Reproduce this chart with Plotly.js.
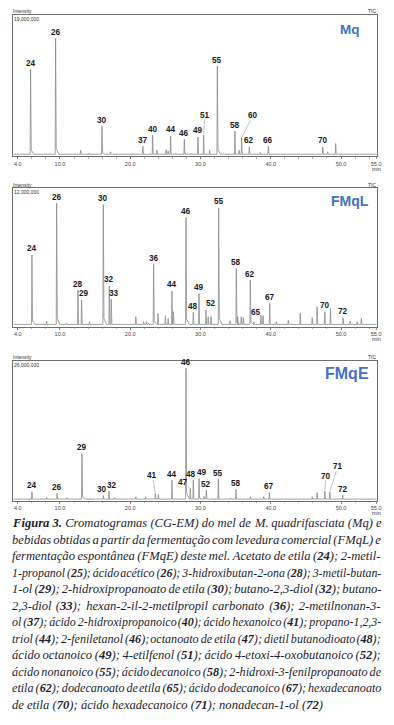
<!DOCTYPE html>
<html><head><meta charset="utf-8">
<script src="https://cdn.plot.ly/plotly-3.0.1.min.js"></script>
<style>html,body{margin:0;padding:0;background:#fff;}#chart{width:394px;height:725px;}</style>
</head><body><div id="chart"></div>
<script>
// ---------- DATA ----------
// Panel Mq : retention time (min), peak height (millions of counts), compound label
const mqTimes   = [5.82, 9.38, 12.94, 14.2, 15.98, 17.2, 21.8, 23.19, 23.8, 25.1, 25.4, 25.75, 26.5, 27.7, 28.7, 29.64, 30.45, 31.3, 32.4, 34.9, 35.5, 35.86, 36.95, 38.5, 39.66, 44.0, 47.4, 48.1, 49.24];
const mqHeights = [11.72, 15.85, 0.82, 0.45, 4.05, 0.6, 1.35, 2.83, 0.8, 0.9, 0.7, 2.74, 0.4, 2.29, 0.4, 2.6, 2.83, 0.8, 12.1, 3.4, 0.8, 2.5, 1.26, 0.5, 1.35, 0.35, 1.26, 0.6, 1.71];
const mqLabels  = ['24','26','','','30','','37','40','','','','44','','46','','49','51','','55','58','','60','62','','66','','70','',''];
const mqBase = 0.28, mqScale = 19;

// Panel FMqL
const lTimes   = [6.01, 8.1, 9.53, 10.9, 12.56, 13.08, 14.2, 16.17, 17.02, 17.3, 19.0, 20.8, 21.9, 22.3, 22.6, 23.33, 23.95, 25.0, 25.4, 25.94, 26.15, 27.94, 28.98, 29.79, 30.78, 31.1, 31.5, 32.59, 34.2, 35.1, 35.3, 35.8, 36.1, 37.09, 37.6, 38.6, 38.9, 39.85, 40.8, 42.5, 44.2, 45.9, 46.6, 47.7, 48.5, 50.3, 51.3, 52.3, 52.9];
const lHeights = [6.22, 0.49, 10.7, 0.3, 3.18, 2.32, 0.43, 10.6, 3.53, 2.4, 0.25, 0.87, 0.43, 0.43, 0.3, 5.4, 1.16, 0.95, 0.72, 3.1, 1.3, 9.46, 1.25, 2.89, 1.45, 0.87, 0.87, 10.3, 0.52, 5.04, 0.87, 0.87, 0.8, 4.04, 0.43, 1.0, 0.95, 2.03, 0.43, 0.55, 1.16, 0.78, 1.73, 1.3, 1.59, 0.78, 0.5, 0.43, 0.72];
const lLabels  = ['24','','26','','28','29','','30','32','33','','','','','','36','','','','44','','46','48','49','52','','','55','','58','','','','62','','65','','67','','','','','','70','','72','','',''];
const lBase = 0.2, lScale = 12;

// Panel FMqE
const eTimes   = [6.01, 8.1, 9.6, 10.98, 13.13, 14.2, 16.17, 16.98, 17.8, 20.8, 22.2, 23.57, 24.0, 25.94, 27.94, 28.55, 28.98, 29.79, 30.5, 30.83, 32.54, 34.3, 35.05, 37.1, 39.0, 39.8, 42.5, 44.1, 45.9, 46.6, 47.7, 48.4, 50.24, 52.5];
const eHeights = [1.66, 0.62, 1.35, 0.55, 8.74, 0.43, 0.94, 1.79, 0.55, 0.74, 0.74, 1.35, 1.17, 3.82, 24.6, 2.29, 3.82, 4.13, 0.8, 1.98, 4.0, 0.5, 2.1, 0.74, 0.74, 1.48, 0.4, 0.4, 0.74, 1.48, 1.79, 1.66, 1.04, 0.4];
const eLabels  = ['24','','26','','29','','30','32','','','','41','','44','46','47','48','49','','52','55','','58','','','67','','','','','70','71','72',''];
const eBase = 0.3, eScale = 26;

const panelNames = ['Mq', 'FMqL', 'FMqE'];
const scaleTexts = ['19,000,000', '12,000,000', '26,000,000'];
const tickVals = [4, 10, 20, 30, 40, 50, 55];
const tickText = ['4.0', '10.0', '20.0', '30.0', '40.0', '50.0', '55.0'];

const captionLines = [
 "<b>Figura</b> <b>3.</b> Cromatogramas (CG-EM) do mel de M. quadrifasciata (Mq) e",
 "bebidas obtidas a partir da fermentação com levedura comercial (FMqL) e",
 "fermentação espontânea (FMqE) deste mel. Acetato de etila (<b>24</b>); 2-metil-",
 "1-propanol (<b>25</b>); ácido acético (<b>26</b>); 3-hidroxibutan-2-ona (<b>28</b>); 3-metil-butan-",
 "1-ol (<b>29</b>); 2-hidroxipropanoato de etila (<b>30</b>); butano-2,3-diol (<b>32</b>); butano-",
 "2,3-diol (<b>33</b>); hexan-2-il-2-metilpropil carbonato (<b>36</b>); 2-metilnonan-3-",
 "ol (<b>37</b>); ácido 2-hidroxipropanoico (<b>40</b>); ácido hexanoico (<b>41</b>); propano-1,2,3-",
 "triol (<b>44</b>); 2-feniletanol (<b>46</b>); octanoato de etila (<b>47</b>); dietil butanodioato (<b>48</b>);",
 "ácido octanoico (<b>49</b>); 4-etilfenol (<b>51</b>); ácido 4-etoxi-4-oxobutanoico (<b>52</b>);",
 "ácido nonanoico (<b>55</b>); ácido decanoico (<b>58</b>); 2-hidroxi-3-fenilpropanoato de",
 "etila (<b>62</b>); dodecanoato de etila (<b>65</b>); ácido dodecanoico (<b>67</b>); hexadecanoato",
 "de etila (<b>70</b>); ácido hexadecanoico (<b>71</b>); nonadecan-1-ol (<b>72</b>)"
];

// ---------- LAYOUT / STYLE ----------
const W = 394, H = 725;
const xRange = [3.36, 55.08];
const boxL = 13.3, boxR = 376.7;
const boxes = [{top: 15, bottom: 156.3}, {top: 188.3, bottom: 326.7}, {top: 360.7, bottom: 500.7}];
const titleStyle = [{x: 349.7, y: 29.5, size: 13.5}, {x: 349.7, y: 201, size: 14}, {x: 346.5, y: 373, size: 16}];
// label adjustments: [dx px, dy px, leader line?]
const labelAdj = [
  {'51': [1, -18, true], '60': [11, -20, true]},
  {'29': [2, 0], '33': [3, 0], '52': [5, 0], '65': [-5, 3]},
  {'41': [-3, -16, true], '47': [-7, -4, true], '70': [1, -13, true], '71': [8, -23, true], '30': [-1.5, 0], '32': [2.5, 0], '48': [-2, 0], '49': [3, 0]}
];
const lineColor = '#8a8a8a', boxColor = '#6e6e6e', blue = '#4472c4';
const px2x = p => p / W, px2y = p => 1 - p / H;

function peaksToLine(times, heights, base) {
  const xs = [xRange[0]], ys = [base];
  for (let i = 0; i < times.length; i++) {
    const t = times[i], h = heights[i];
    xs.push(t - 0.06, t); ys.push(base, h);
    if (h > 4) { xs.push(t + 0.09, t + 0.45); ys.push(base + (h - base) * 0.05, base); }
    else { xs.push(t + 0.08); ys.push(base); }
  }
  xs.push(xRange[1]); ys.push(base);
  return {xs, ys};
}

const sets = [
  [mqTimes, mqHeights, mqLabels, mqBase, mqScale],
  [lTimes, lHeights, lLabels, lBase, lScale],
  [eTimes, eHeights, eLabels, eBase, eScale]
];

const traces = [];
const annotations = [];
const layout = {
  width: W, height: H, margin: {l: 0, r: 0, t: 0, b: 0},
  paper_bgcolor: '#fff', plot_bgcolor: '#fff', showlegend: false,
  font: {family: 'Liberation Sans, Arial, sans-serif'}
};

sets.forEach((s, k) => {
  const [times, heights, labels, base, scale] = s;
  const n = k === 0 ? '' : String(k + 1);
  const ln = peaksToLine(times, heights, base);
  traces.push({x: ln.xs, y: ln.ys, xaxis: 'x' + n, yaxis: 'y' + n, type: 'scatter', mode: 'lines',
    line: {color: lineColor, width: 0.8}, hoverinfo: 'skip'});
  const b = boxes[k];
  layout['xaxis' + n] = {
    domain: [px2x(boxL), px2x(boxR)], anchor: 'y' + n, range: xRange,
    showline: true, mirror: true, linecolor: boxColor, linewidth: 1,
    showgrid: false, zeroline: false,
    tickmode: 'array', tickvals: tickVals, ticktext: tickText,
    ticks: 'outside', ticklen: 2, tickwidth: 0.8, tickcolor: boxColor,
    tickfont: {size: 5.5, color: '#444', family: 'Liberation Sans, Arial'},
    minor: {tickmode: 'linear', tick0: 0, dtick: 2, ticks: 'outside', ticklen: 1.5, tickcolor: '#888', tickwidth: 0.6}
  };
  layout['yaxis' + n] = {
    domain: [px2y(b.bottom), px2y(b.top)], anchor: 'x' + n, range: [0, scale],
    showline: true, mirror: true, linecolor: boxColor, linewidth: 1,
    showgrid: false, zeroline: false, showticklabels: false, ticks: ''
  };
  // peak labels
  labels.forEach((lab, i) => {
    if (!lab) return;
    const adj = labelAdj[k][lab] || [0, 0];
    const a = {xref: 'x' + n, yref: 'y' + n, x: times[i], y: heights[i], text: '<b>' + lab + '</b>',
      font: {size: 8.2, color: '#1a1a1a', family: 'Liberation Sans, Arial'}, borderpad: 0, borderwidth: 0};
    if (adj[2]) {
      Object.assign(a, {showarrow: true, ax: adj[0], ay: adj[1] - 2, arrowhead: 0, arrowwidth: 0.6,
        arrowcolor: '#9a9a9a', standoff: 1});
    } else {
      Object.assign(a, {showarrow: false, yanchor: 'middle', yshift: 6 - adj[1], xshift: adj[0]});
    }
    annotations.push(a);
  });
  // small texts
  const small = {size: 5, color: '#333', family: 'Liberation Sans, Arial'};
  annotations.push({xref: 'paper', yref: 'paper', x: px2x(13), y: px2y(b.top - 3.5), xanchor: 'left', yanchor: 'middle',
    text: 'Intensity', showarrow: false, font: small, borderpad: 0, borderwidth: 0});
  annotations.push({xref: 'paper', yref: 'paper', x: px2x(14), y: px2y(b.top + 3.8), xanchor: 'left', yanchor: 'middle',
    text: scaleTexts[k], showarrow: false, font: small, borderpad: 0, borderwidth: 0});
  annotations.push({xref: 'paper', yref: 'paper', x: px2x(376), y: px2y(b.top - 3.5), xanchor: 'right', yanchor: 'middle',
    text: 'TIC', showarrow: false, font: small, borderpad: 0, borderwidth: 0});
  annotations.push({xref: 'paper', yref: 'paper', x: px2x(376.5), y: px2y(b.bottom + 12.5), xanchor: 'center', yanchor: 'middle',
    text: 'min', showarrow: false, font: {size: 5.5, color: '#444', family: 'Liberation Sans, Arial'}, borderpad: 0, borderwidth: 0});
  const ts = titleStyle[k];
  annotations.push({xref: 'paper', yref: 'paper', x: px2x(ts.x), y: px2y(ts.y), xanchor: 'center', yanchor: 'middle',
    text: '<b>' + panelNames[k] + '</b>', showarrow: false,
    font: {size: ts.size, color: blue, family: 'Liberation Sans, Arial'}});
});

// ---------- CAPTION (justified with unicode spaces) ----------
const capFont = 'Liberation Serif';
const capSize = 12.6, capLeft = 12, capRight = 381, capTop = 523, capStep = 16.5;
const cv = document.createElement('canvas').getContext('2d');
function segWidth(txt, bold, size) {
  cv.font = 'italic ' + (bold ? 'bold ' : '') + size + 'px "' + capFont + '"';
  return cv.measureText(txt).width;
}
function tokWidth(tok, size) {
  let w = 0;
  tok.split(/(<b>.*?<\/b>)/).forEach(p => {
    if (!p) return;
    const m = p.match(/^<b>(.*)<\/b>$/);
    w += m ? segWidth(m[1], true, size) : segWidth(p, false, size);
  });
  return w;
}
const HAIR = '\u200A';
captionLines.forEach((line, i) => {
  const toks = line.split(' ');
  let size = capSize;
  const avail = capRight - capLeft;
  let words = toks.reduce((s, t) => s + tokWidth(t, size), 0);
  const spaceW = segWidth(' ', false, size);
  const gaps = toks.length - 1;
  let text;
  const last = i === captionLines.length - 1;
  if (last) {
    text = line;
  } else {
    if (words + gaps * spaceW * 0.6 > avail) {
      size = size * avail / (words + gaps * spaceW * 0.6);
      words = toks.reduce((s, t) => s + tokWidth(t, size), 0);
    }
    const sp = segWidth(' ', false, size);
    const hw = segWidth(HAIR, false, size) || 0.5;
    const thin = segWidth('\u2009', false, size);
    let perGap = (avail - words) / gaps;
    let err = 0;
    text = toks[0];
    for (let g = 1; g < toks.length; g++) {
      let target = perGap + err;
      let gapStr, used;
      if (target >= sp) {
        const nh = Math.max(0, Math.round((target - sp) / hw));
        gapStr = ' ' + HAIR.repeat(nh); used = sp + nh * hw;
      } else if (target >= thin) {
        const nh = Math.max(0, Math.round((target - thin) / hw));
        gapStr = '\u2009' + HAIR.repeat(nh); used = thin + nh * hw;
      } else {
        const nh = Math.max(1, Math.round(target / hw));
        gapStr = HAIR.repeat(nh); used = nh * hw;
      }
      err = target - used;
      text += gapStr + toks[g];
    }
  }
  annotations.push({xref: 'paper', yref: 'paper', x: px2x(capLeft), y: px2y(capTop + i * capStep),
    xanchor: 'left', yanchor: 'middle', showarrow: false, borderpad: 0, borderwidth: 0,
    text: '<i>' + text + '</i>', align: 'left',
    font: {family: capFont, size: size, color: '#1e1e30', style: 'italic'}});
});

layout.annotations = annotations;
Plotly.newPlot('chart', traces, layout, {staticPlot: true, displayModeBar: false});
</script>
</body></html>
